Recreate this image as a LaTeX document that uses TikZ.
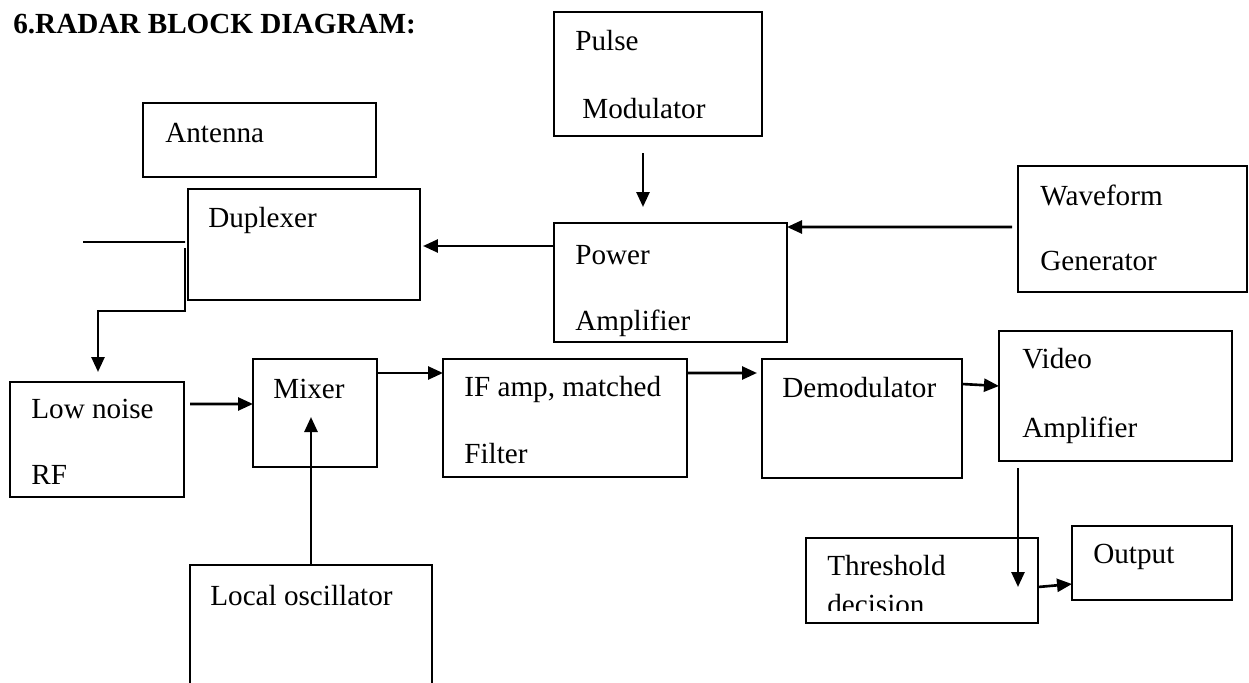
\documentclass[tikz,border=0pt]{standalone}
\usepackage{fontspec}
\setmainfont{Liberation Serif}
\usepackage{tikz}
\usetikzlibrary{calc, fit, arrows.meta}

\begin{document}
\begin{tikzpicture}[x=0.02cm, y=-0.02cm,
      blk/.style={draw, line width=1.1pt, inner sep=0pt, outer sep=0pt},
      txt/.style={anchor=base west, inner sep=0pt,
        font=\fontsize{16.6}{20}\selectfont},
      arr/.style={->, line width=1.5pt},
      >={Triangle[length=0.3cm,width=0.26cm]}]
    \useasboundingbox (0,0) rectangle (1249,683);
    \clip (0,0) rectangle (1249,683);
    \node[txt, font=\fontsize{16.6}{20}\selectfont\bfseries] (title) at (13,33) {6.RADAR BLOCK DIAGRAM:};
    % blocks
    \node[blk, fit={(143,103) (376,177)}] (ant) {};
    \node[blk, fit={(188,189) (420,300)}] (dup) {};
    \node[blk, fit={(554,12) (762,136)}] (pulse) {};
    \node[blk, fit={(554,223) (787,342)}] (power) {};
    \node[blk, fit={(1018,166) (1247,292)}] (wave) {};
    \node[blk, fit={(10,382) (184,497)}] (lnrf) {};
    \node[blk, fit={(253,359) (377,467)}] (mixer) {};
    \node[blk, fit={(190,565) (432,720)}] (lo) {};
    \node[blk, fit={(443,359) (687,477)}] (if) {};
    \node[blk, fit={(762,359) (962,478)}] (demod) {};
    \node[blk, fit={(999,331) (1232,461)}] (video) {};
    \node[blk, fit={(806,538) (1038,623)}] (thr) {};
    \node[blk, fit={(1072,526) (1232,600)}] (out) {};
    % labels
    \node[txt] (ant1) at (165,142) {Antenna};
    \node[txt] (dup1) at (208,227) {Duplexer};
    \node[txt] (pulse1) at (575,50) {Pulse};
    \node[txt] (pulse2) at (582,118) {Modulator};
    \node[txt] (power1) at (575,264) {Power};
    \node[txt] (power2) at (575,330) {Amplifier};
    \node[txt] (wave1) at (1040,205) {Waveform};
    \node[txt] (wave2) at (1040,270) {Generator};
    \node[txt] (lnrf1) at (31,418) {Low noise};
    \node[txt] (lnrf2) at (31,484) {RF};
    \node[txt] (mixer1) at (273,398) {Mixer};
    \node[txt] (lo1) at (210,605) {Local oscillator};
    \node[txt] (if1) at (464,396) {IF amp, matched};
    \node[txt] (if2) at (464,463) {Filter};
    \node[txt] (demod1) at (782,397) {Demodulator};
    \node[txt] (video1) at (1022,368) {Video};
    \node[txt] (video2) at (1022,437) {Amplifier};
    \node[txt] (thr1) at (827,575) {Threshold};
    \node[txt] (out1) at (1093,563) {Output};
    \begin{scope}
      \clip (806,538) rectangle (1038,610);
      \node[txt] (thr2) at (827,614) {decision};
    \end{scope}
    % connectors
    \coordinate (feed) at (83,242);
    \draw[line width=1.1pt] (feed) -- ($(dup.north west)+(-3,53)$);
    \draw[arr] ($(pulse.south west)+(89,17)$) -- ($(power.north west)+(89,-16)$);
    \draw[arr] ($(wave.north west)+(-6,61)$) -- ($(power.north east)+(0,4)$);
    \draw[arr] ($(power.north west)+(0,23)$) -- ($(dup.north east)+(3,57)$);
    \draw[arr] ($(dup.north west)+(-3,59)$) -- ++(0,63) -| ($(lnrf.north west)+(88,-10)$);
    \draw[arr] ($(lnrf.north east)+(6,22)$) -- ($(mixer.north west)+(0,45)$);
    \draw[arr] (lo.north) -- ($(mixer.north west)+(58,58)$);
    \draw[arr] ($(mixer.north east)+(0,14)$) -- ($(if.north west)+(0,14)$);
    \draw[arr] ($(if.north east)+(0,14)$) -- ($(demod.north west)+(-5,14)$);
    \draw[arr] ($(demod.north east)+(0,25)$) -- ($(video.north west)+(0,55)$);
    \draw[arr] ($(video.south west)+(19,7)$) -- ($(thr.north west)+(212,49)$);
    \draw[arr] ($(thr.north east)+(0,49)$) -- ($(out.north west)+(0,58)$);
  \end{tikzpicture}
\end{document}
